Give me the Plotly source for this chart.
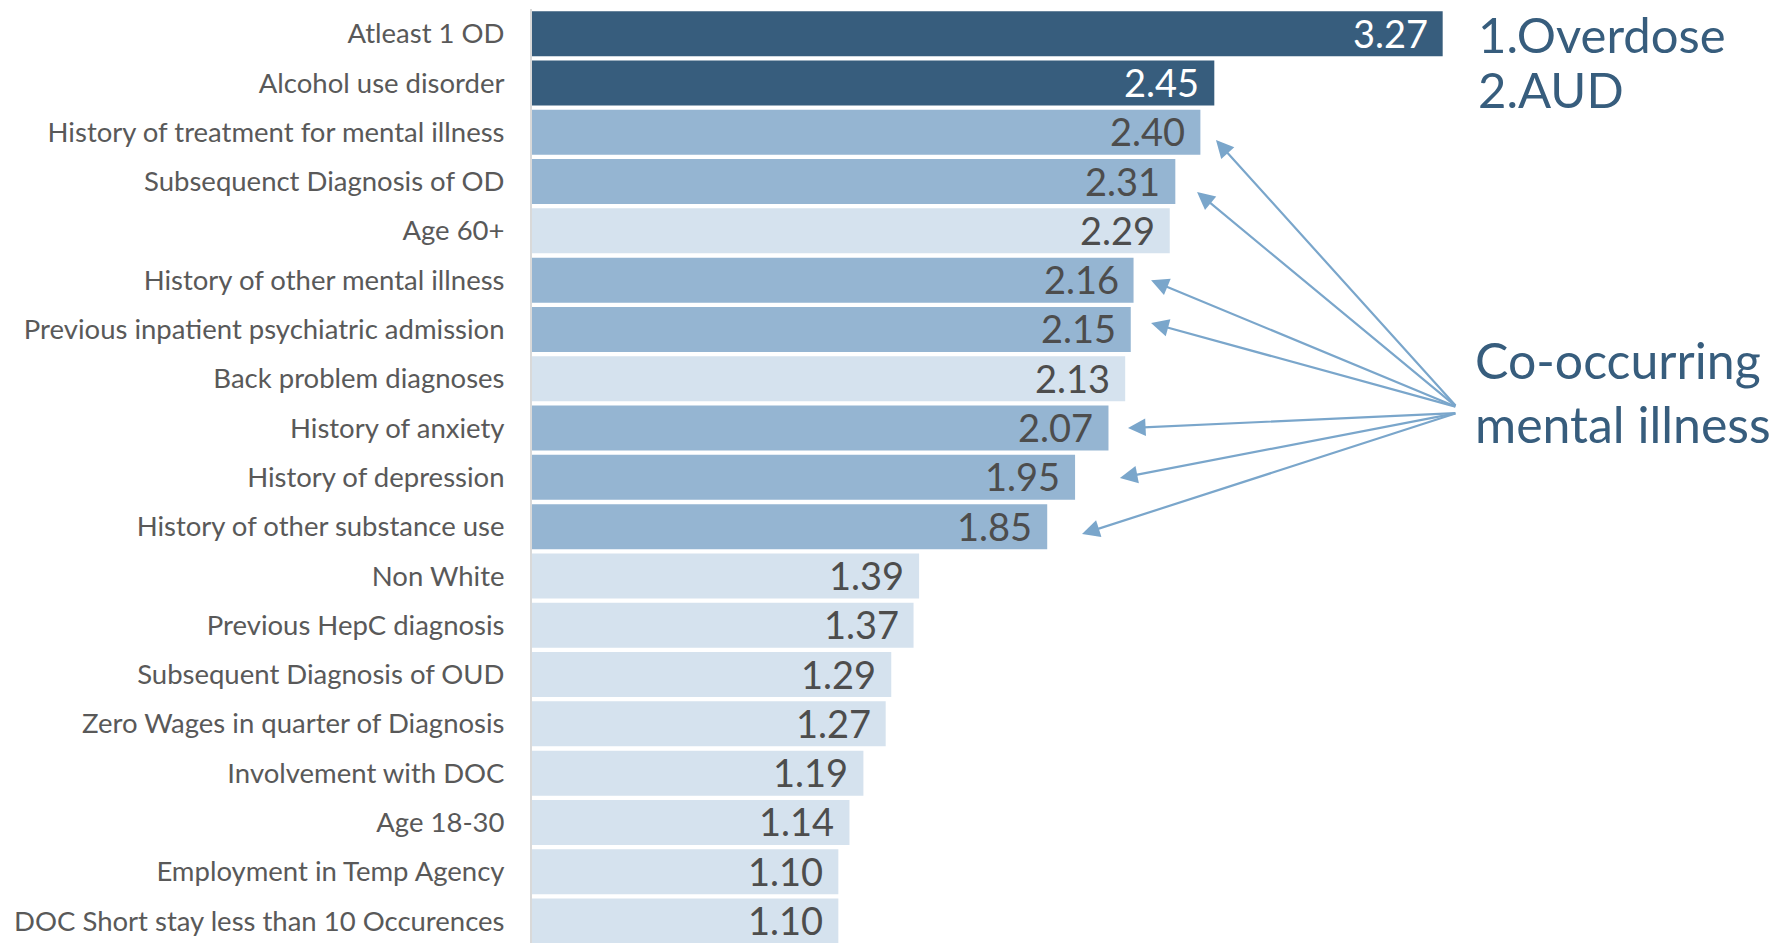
import plotly.graph_objects as go

categories = [
    "Atleast 1 OD",
    "Alcohol use disorder",
    "History of treatment for mental illness",
    "Subsequenct Diagnosis of OD",
    "Age 60+",
    "History of other mental illness",
    "Previous inpatient psychiatric admission",
    "Back problem diagnoses",
    "History of anxiety",
    "History of depression",
    "History of other substance use",
    "Non White",
    "Previous HepC diagnosis",
    "Subsequent Diagnosis of OUD",
    "Zero Wages in quarter of Diagnosis",
    "Involvement with DOC",
    "Age 18-30",
    "Employment in Temp Agency",
    "DOC Short stay less than 10 Occurences",
]
values = [3.27, 2.45, 2.40, 2.31, 2.29, 2.16, 2.15, 2.13, 2.07, 1.95, 1.85,
          1.39, 1.37, 1.29, 1.27, 1.19, 1.14, 1.10, 1.10]
# group: 0 = top risk (dark), 1 = co-occurring mental illness (medium), 2 = other (light)
groups = [0, 0, 1, 1, 2, 1, 1, 2, 1, 1, 1, 2, 2, 2, 2, 2, 2, 2, 2]

# arrows: category index, head offsets from bar end (x in units, y in rows)
arrow_rows = [2, 3, 5, 6, 8, 9, 10]
arrow_dx = [0.056, 0.078, 0.063, 0.073, 0.070, 0.161, 0.125]
arrow_dy = [0.158, 0.213, 0.0, -0.13, 0.0, 0.014, 0.15]

DARK = "#375D7D"
MED = "#95B5D2"
LIGHT = "#D5E2EE"
ARROW = "#7AA6CB"
fill = {0: DARK, 1: MED, 2: LIGHT}
txtc = {0: "#FFFFFF", 1: "#4D4D4D", 2: "#4D4D4D"}

FONT = "Lato"
ypos = list(range(len(categories)))

fig = go.Figure()
fig.add_trace(go.Bar(
    x=values, y=ypos, orientation="h",
    marker=dict(color=[fill[g] for g in groups], line=dict(width=0)),
    hoverinfo="skip", showlegend=False,
))

annotations = []
for i, v in enumerate(values):
    annotations.append(dict(
        x=v, y=i, xref="x", yref="y", text=f"{v:.2f}", showarrow=False,
        xanchor="right", yanchor="middle", xshift=-13, yshift=1,
        font=dict(family=FONT, size=38, color=txtc[groups[i]]),
    ))

tail_x = 3.321
for k, r in enumerate(arrow_rows):
    tail_y = 7.574 if arrow_rows[k] <= 6 else 7.696
    annotations.append(dict(
        x=values[r] + arrow_dx[k], y=r + arrow_dy[k], xref="x", yref="y",
        ax=tail_x, ay=tail_y, axref="x", ayref="y", text="",
        showarrow=True, arrowhead=2, arrowsize=1.6, arrowwidth=2.2,
        arrowcolor=ARROW, standoff=0, startstandoff=0,
    ))

side_font = dict(family=FONT, size=49, color=DARK)
annotations += [
    dict(x=3.39, y=0.0, xref="x", yref="y", text="1.Overdose", showarrow=False,
         xanchor="left", yanchor="middle", font=side_font),
    dict(x=3.39, y=1.12, xref="x", yref="y", text="2.AUD", showarrow=False,
         xanchor="left", yanchor="middle", font=side_font),
    dict(x=3.38, y=6.61, xref="x", yref="y", text="Co-occurring", showarrow=False,
         xanchor="left", yanchor="middle", font=dict(family=FONT, size=50, color=DARK)),
    dict(x=3.38, y=7.91, xref="x", yref="y", text="mental illness", showarrow=False,
         xanchor="left", yanchor="middle", font=dict(family=FONT, size=50, color=DARK)),
]

fig.update_layout(
    width=1783, height=943,
    margin=dict(l=532, r=0, t=9, b=0, autoexpand=False),
    paper_bgcolor="white", plot_bgcolor="white",
    bargap=0.087,
    xaxis=dict(range=[0, 4.492], visible=False, fixedrange=True),
    yaxis=dict(
        range=[18.445, -0.5], tickmode="array", tickvals=ypos, ticktext=categories,
        showline=True, linecolor="#D9D9D9", linewidth=2, showgrid=False,
        zeroline=False, ticks="", ticklabelstandoff=20,
        tickfont=dict(family=FONT, size=27.5, color="#595959"),
        fixedrange=True,
    ),
    annotations=annotations,
    showlegend=False,
)

fig.write_html("out.html", config={"displayModeBar": False})
